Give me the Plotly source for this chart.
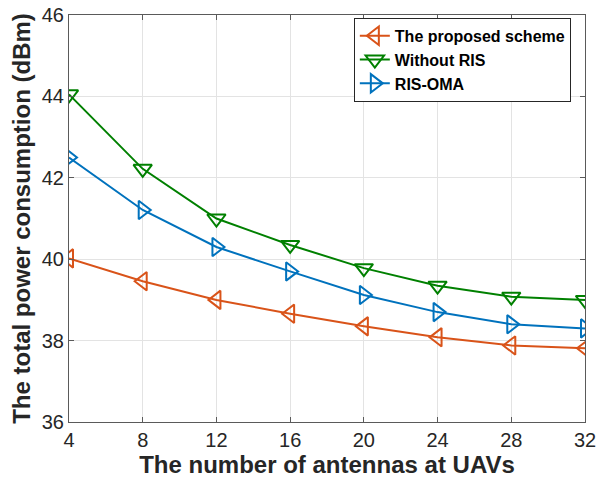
import plotly.graph_objects as go

antennas = [4, 8, 12, 16, 20, 24, 28, 32]
proposed = [40.02, 39.46, 39.0, 38.66, 38.35, 38.08, 37.88, 37.81]
without_ris = [44.05, 42.22, 41.0, 40.35, 39.78, 39.35, 39.08, 39.0]
ris_oma = [42.5, 41.21, 40.3, 39.7, 39.12, 38.7, 38.4, 38.3]

names = ["<b>The proposed scheme</b>", "<b>Without RIS</b>", "<b>RIS-OMA</b>"]
colors = ["#D95319", "#008000", "#0072BD"]
symbols = ["triangle-left-open", "triangle-down-open", "triangle-right-open"]
series = [proposed, without_ris, ris_oma]

fig = go.Figure()
for name, ys, c, s in zip(names, series, colors, symbols):
    fig.add_trace(go.Scatter(
        x=antennas, y=ys, name=name, mode="lines+markers",
        line=dict(color=c, width=2),
        marker=dict(symbol=s, size=16, color=c, line=dict(width=2, color=c)),
    ))

axis_common = dict(
    showgrid=True, gridcolor="#e3e3e3", gridwidth=1,
    showline=True, linecolor="#5a5a5a", linewidth=1, mirror="ticks",
    ticks="inside", ticklen=5, tickcolor="#5a5a5a",
    tickfont=dict(family="Liberation Sans, Arial", size=20, color="#262626"),
    zeroline=False, automargin=False,
)

fig.update_layout(
    width=598, height=486,
    margin=dict(l=69, r=13, t=15, b=64),
    paper_bgcolor="white", plot_bgcolor="white",
    xaxis=dict(range=[4, 32], tickvals=antennas, **axis_common,
               title=dict(text="<b>The number of antennas at UAVs</b>", standoff=4,
                          font=dict(family="Liberation Sans, Arial", size=24, color="#262626"))),
    yaxis=dict(range=[36, 46], dtick=2, **axis_common,
               title=dict(text="<b>The total power consumption (dBm)</b>", standoff=4,
                          font=dict(family="Liberation Sans, Arial", size=24, color="#262626"))),
    legend=dict(x=0.552, y=0.993, xanchor="left", yanchor="top",
                bgcolor="white", bordercolor="#262626", borderwidth=1,
                font=dict(family="Liberation Sans, Arial", size=16, color="black"),
                itemwidth=30, tracegroupgap=0),
    showlegend=True,
)

fig.write_html(
    "out.html",
    config={"displayModeBar": False},
    post_script="document.body.style.margin='0';document.body.style.overflow='hidden';",
)
